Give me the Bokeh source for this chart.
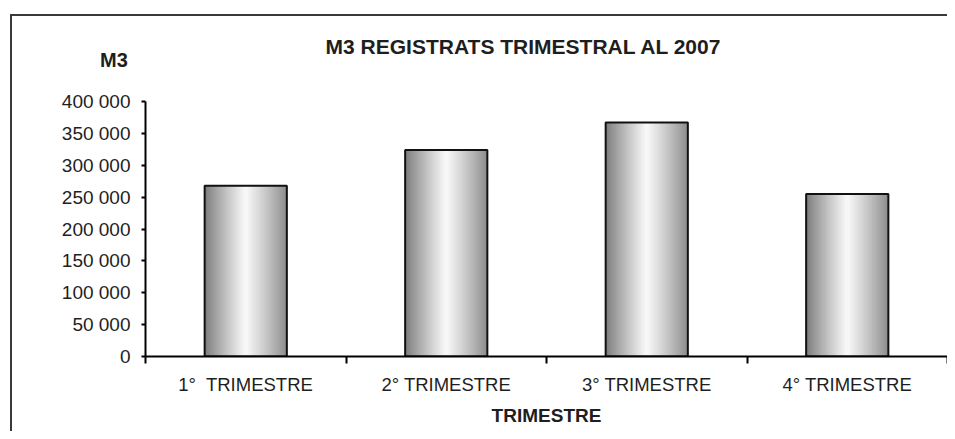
from bokeh.plotting import figure
from bokeh.models import (ColumnDataSource, Range1d, LinearAxis,
                          FixedTicker, Div)
from bokeh.layouts import column
from bokeh.transform import dodge
from bokeh.embed import file_html
from bokeh.resources import INLINE

# ---- data ----
categories = ["1°\u00a0 TRIMESTRE", "2° TRIMESTRE", "3° TRIMESTRE", "4° TRIMESTRE"]
volumes = [268000, 324000, 367000, 255000]
y_ticks = [0, 50000, 100000, 150000, 200000, 250000, 300000, 350000, 400000]
y_tick_labels = ["0", "50 000", "100 000", "150 000", "200 000", "250 000",
                 "300 000", "350 000", "400 000"]
title_text = "M3 REGISTRATS TRIMESTRAL AL 2007"
y_title = "M3"
x_title = "TRIMESTRE"

FONT = "Liberation Sans"
TXT = "#1e1e1e"

centers = [i + 0.5 for i in range(len(categories))]
source = ColumnDataSource(data=dict(cat=categories, xc=centers, val=volumes))

HEAD_H = 73
p = figure(width=935, height=415 - HEAD_H, output_backend="svg",
           toolbar_location=None,
           x_range=Range1d(0, len(categories)),
           y_range=Range1d(0, 400000),
           x_axis_type=None, y_axis_type=None,
           min_border_left=133, min_border_top=12, min_border_bottom=75,
           min_border_right=0)
p.outline_line_color = None
p.background_fill_color = "white"
p.border_fill_color = "white"

# y axis
yax = LinearAxis(ticker=FixedTicker(ticks=y_ticks))
yax.major_label_overrides = {t: l for t, l in zip(y_ticks, y_tick_labels)}
yax.axis_line_color = "black"
yax.axis_line_width = 2
yax.major_tick_line_color = "black"
yax.major_tick_line_width = 2
yax.major_tick_in = 0
yax.major_tick_out = 4
yax.minor_tick_line_color = None
yax.major_label_standoff = 11
yax.major_label_text_font = FONT
yax.major_label_text_font_size = "19px"
yax.major_label_text_color = TXT
p.add_layout(yax, "left")

# boundary ticks axis (x)
bax = LinearAxis(ticker=FixedTicker(ticks=list(range(len(categories) + 1))))
bax.axis_line_color = "black"
bax.axis_line_width = 2
bax.major_tick_line_color = "black"
bax.major_tick_line_width = 2
bax.major_tick_in = 0
bax.major_tick_out = 7
bax.minor_tick_line_color = None
bax.major_label_overrides = {i: "" for i in range(len(categories) + 1)}
bax.major_label_text_font_size = "1px"
bax.major_label_standoff = 0
p.add_layout(bax, "below")

# category label axis
cax = LinearAxis(ticker=FixedTicker(ticks=centers))
cax.major_label_overrides = {c: n for c, n in zip(centers, categories)}
cax.axis_line_color = None
cax.major_tick_line_color = None
cax.minor_tick_line_color = None
cax.major_label_standoff = 4
cax.major_label_text_font = FONT
cax.major_label_text_font_size = "18.5px"
cax.major_label_text_color = TXT
cax.axis_label = x_title
cax.axis_label_standoff = 7
cax.axis_label_text_font = FONT
cax.axis_label_text_font_style = "bold"
cax.axis_label_text_font_size = "19px"
cax.axis_label_text_color = TXT
p.add_layout(cax, "below")

# grid
p.ygrid.ticker = FixedTicker(ticks=y_ticks)
p.ygrid.grid_line_color = "#a8a8a8"
p.ygrid.grid_line_width = 2
for g in p.grid:
    if g.dimension == 0:
        g.visible = False

# bars with horizontal gradient (overlapping strips for smoothness)
bar_w = 0.41
n = 40
sw = bar_w / n
for i in range(n):
    t = (i + 0.5) / n
    if t < 0.5:
        s = t / 0.5
        c = 122 + (250 - 122) * (s ** 0.9)
    else:
        s = (1 - t) / 0.5
        c = 138 + (250 - 138) * (s ** 0.9)
    c = int(round(c))
    col = "#%02x%02x%02x" % (c, c, c)
    w = min(2.0 * sw, bar_w - i * sw)
    off = -bar_w / 2 + i * sw + w / 2
    p.vbar(x=dodge("xc", off), top="val", width=w,
           bottom=0, source=source, fill_color=col, line_color=None)
p.vbar(x="xc", top="val", width=bar_w, bottom=0, source=source,
       fill_color=None, line_color="#111111", line_width=2)

# header with chart title and y-axis title
span = ("position:absolute;left:%dpx;top:%dpx;transform:translate(-50%%,-50%%);"
        "white-space:nowrap;font-family:'Liberation Sans';font-weight:bold;"
        "font-size:%dpx;color:%s;")
head_html = (
    '<div style="position:relative;width:935px;height:%dpx;">' % HEAD_H
    + '<span style="%s">%s</span>' % (span % (511, 31, 21, TXT), title_text)
    + '<span style="%s">%s</span>' % (span % (102, 44, 20, TXT), y_title)
    + '</div>'
)
header = Div(text=head_html, width=935, height=HEAD_H,
             styles={"margin": "0", "padding": "0"})

layout = column(header, p, spacing=0,
                styles={"border-left": "2px solid #3a3a3a",
                        "border-top": "2px solid #3a3a3a",
                        "margin-left": "10px", "margin-top": "14px",
                        "background-color": "white"})

open("out.html", "w").write(file_html(layout, INLINE))
